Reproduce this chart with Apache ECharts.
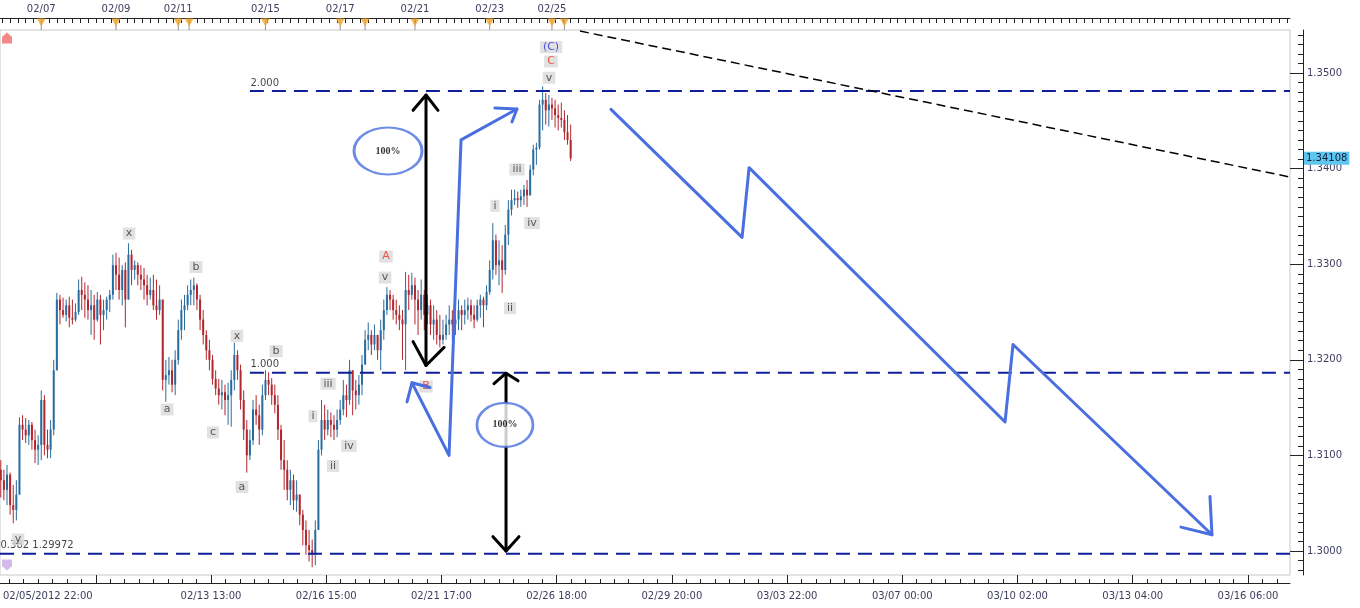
<!DOCTYPE html>
<html><head><meta charset="utf-8">
<script src="https://cdn.jsdelivr.net/npm/echarts@6/dist/echarts.min.js"></script>
<style>html,body{margin:0;padding:0;background:#fff}#c{width:1360px;height:608px}</style>
</head><body><div id="c"></div>
<script>
// ---------------- DATA ----------------
// x unit = trading hour since 02/05/2012 22:00; one candle per 2 hours
const candleStepHours = 2;
// [open, close, low, high]
const candles = [
[1.3085,1.3074,1.3056,1.3095],[1.3074,1.3064,1.3053,1.3085],[1.3064,1.3080,1.3048,1.3090],[1.3080,1.3048,1.3038,1.3082],
[1.3048,1.3043,1.3029,1.3069],[1.3043,1.3059,1.3032,1.3074],[1.3059,1.3132,1.3059,1.3140],[1.3132,1.3127,1.3116,1.3142],
[1.3127,1.3121,1.3113,1.3139],[1.3121,1.3132,1.3111,1.3137],[1.3132,1.3116,1.3106,1.3135],[1.3116,1.3106,1.3092,1.3127],
[1.3106,1.3111,1.3090,1.3121],[1.3111,1.3158,1.3095,1.3168],[1.3158,1.3111,1.3100,1.3163],[1.3111,1.3106,1.3097,1.3127],
[1.3106,1.3127,1.3097,1.3137],[1.3127,1.3189,1.3121,1.3200],[1.3189,1.3263,1.3189,1.3270],[1.3263,1.3252,1.3237,1.3268],
[1.3252,1.3247,1.3244,1.3265],[1.3247,1.3257,1.3240,1.3263],[1.3257,1.3244,1.3234,1.3266],[1.3244,1.3242,1.3237,1.3263],
[1.3242,1.3250,1.3240,1.3259],[1.3250,1.3273,1.3247,1.3284],[1.3273,1.3268,1.3252,1.3287],[1.3268,1.3263,1.3244,1.3281],
[1.3263,1.3252,1.3242,1.3278],[1.3252,1.3257,1.3226,1.3273],[1.3257,1.3242,1.3221,1.3268],[1.3242,1.3263,1.3240,1.3271],
[1.3263,1.3247,1.3216,1.3268],[1.3247,1.3252,1.3231,1.3263],[1.3252,1.3263,1.3242,1.3266],[1.3263,1.3268,1.3250,1.3273],
[1.3268,1.3299,1.3263,1.3310],[1.3299,1.3289,1.3273,1.3312],[1.3289,1.3273,1.3263,1.3307],[1.3273,1.3294,1.3257,1.3299],
[1.3294,1.3263,1.3234,1.3302],[1.3263,1.3310,1.3263,1.3322],[1.3310,1.3294,1.3278,1.3315],[1.3294,1.3299,1.3284,1.3304],
[1.3299,1.3289,1.3278,1.3302],[1.3289,1.3284,1.3273,1.3299],[1.3284,1.3278,1.3263,1.3296],[1.3278,1.3268,1.3257,1.3289],
[1.3268,1.3273,1.3263,1.3286],[1.3273,1.3257,1.3252,1.3289],[1.3257,1.3252,1.3242,1.3284],[1.3252,1.3263,1.3247,1.3278],
[1.3263,1.3179,1.3168,1.3263],[1.3179,1.3184,1.3156,1.3200],[1.3184,1.3189,1.3174,1.3203],[1.3189,1.3174,1.3166,1.3200],
[1.3174,1.3200,1.3163,1.3210],[1.3200,1.3231,1.3195,1.3242],[1.3231,1.3252,1.3221,1.3263],[1.3252,1.3257,1.3231,1.3268],
[1.3257,1.3268,1.3252,1.3278],[1.3268,1.3273,1.3257,1.3284],[1.3273,1.3278,1.3257,1.3286],[1.3278,1.3263,1.3252,1.3280],
[1.3263,1.3242,1.3231,1.3268],[1.3242,1.3226,1.3216,1.3252],[1.3226,1.3210,1.3200,1.3231],[1.3210,1.3200,1.3189,1.3221],
[1.3200,1.3180,1.3174,1.3205],[1.3180,1.3170,1.3163,1.3189],[1.3170,1.3163,1.3153,1.3180],[1.3163,1.3166,1.3148,1.3179],
[1.3166,1.3158,1.3142,1.3174],[1.3158,1.3163,1.3132,1.3176],[1.3163,1.3179,1.3130,1.3189],[1.3179,1.3205,1.3168,1.3218],
[1.3205,1.3189,1.3179,1.3210],[1.3189,1.3158,1.3148,1.3195],[1.3158,1.3127,1.3116,1.3168],[1.3127,1.3100,1.3082,1.3137],
[1.3100,1.3116,1.3095,1.3127],[1.3116,1.3148,1.3111,1.3158],[1.3148,1.3142,1.3132,1.3163],[1.3142,1.3127,1.3111,1.3153],
[1.3127,1.3163,1.3121,1.3174],[1.3163,1.3179,1.3158,1.3189],[1.3179,1.3174,1.3163,1.3187],[1.3174,1.3163,1.3153,1.3181],
[1.3163,1.3153,1.3144,1.3174],[1.3153,1.3127,1.3116,1.3163],[1.3127,1.3095,1.3085,1.3132],[1.3095,1.3085,1.3064,1.3116],
[1.3085,1.3064,1.3053,1.3095],[1.3064,1.3074,1.3048,1.3085],[1.3074,1.3053,1.3043,1.3080],[1.3053,1.3059,1.3041,1.3074],
[1.3059,1.3038,1.3027,1.3059],[1.3038,1.3022,1.3006,1.3043],[1.3022,1.3006,1.2996,1.3032],[1.3006,1.3001,1.2989,1.3022],
[1.3001,1.2996,1.2983,1.3012],[1.2996,1.3022,1.2985,1.3032],[1.3022,1.3106,1.3022,1.3116],[1.3106,1.3137,1.3100,1.3158],
[1.3137,1.3127,1.3116,1.3153],[1.3127,1.3137,1.3121,1.3148],[1.3137,1.3132,1.3119,1.3145],[1.3132,1.3127,1.3116,1.3142],
[1.3127,1.3137,1.3119,1.3148],[1.3137,1.3148,1.3132,1.3158],[1.3148,1.3163,1.3142,1.3179],[1.3163,1.3158,1.3140,1.3174],
[1.3158,1.3189,1.3153,1.3200],[1.3189,1.3168,1.3142,1.3189],[1.3168,1.3163,1.3148,1.3179],[1.3163,1.3174,1.3153,1.3184],
[1.3174,1.3195,1.3163,1.3205],[1.3195,1.3221,1.3195,1.3231],[1.3221,1.3226,1.3210,1.3239],[1.3226,1.3216,1.3205,1.3231],
[1.3216,1.3226,1.3210,1.3237],[1.3226,1.3210,1.3200,1.3226],[1.3210,1.3231,1.3189,1.3242],[1.3231,1.3252,1.3221,1.3263],
[1.3252,1.3268,1.3247,1.3276],[1.3268,1.3263,1.3252,1.3273],[1.3263,1.3252,1.3242,1.3268],[1.3252,1.3247,1.3237,1.3263],
[1.3247,1.3242,1.3231,1.3257],[1.3242,1.3237,1.3200,1.3252],[1.3237,1.3273,1.3189,1.3292],[1.3273,1.3268,1.3252,1.3289],
[1.3268,1.3278,1.3263,1.3291],[1.3278,1.3263,1.3237,1.3286],[1.3263,1.3252,1.3226,1.3273],[1.3252,1.3268,1.3242,1.3284],
[1.3268,1.3247,1.3231,1.3273],[1.3247,1.3257,1.3237,1.3268],[1.3257,1.3237,1.3226,1.3263],[1.3237,1.3242,1.3221,1.3257],
[1.3242,1.3226,1.3216,1.3252],[1.3226,1.3221,1.3213,1.3247],[1.3221,1.3226,1.3216,1.3242],[1.3226,1.3237,1.3221,1.3247],
[1.3237,1.3242,1.3226,1.3257],[1.3242,1.3237,1.3221,1.3252],[1.3237,1.3242,1.3226,1.3247],[1.3242,1.3252,1.3231,1.3263],
[1.3252,1.3247,1.3231,1.3257],[1.3247,1.3252,1.3237,1.3263],[1.3252,1.3257,1.3242,1.3265],[1.3257,1.3247,1.3240,1.3263],
[1.3247,1.3242,1.3233,1.3257],[1.3242,1.3257,1.3240,1.3263],[1.3257,1.3263,1.3244,1.3268],[1.3263,1.3257,1.3234,1.3266],
[1.3257,1.3271,1.3252,1.3278],[1.3271,1.3294,1.3268,1.3304],[1.3294,1.3325,1.3284,1.3343],[1.3325,1.3299,1.3289,1.3331],
[1.3299,1.3304,1.3278,1.3325],[1.3304,1.3294,1.3270,1.3320],[1.3294,1.3331,1.3289,1.3341],[1.3331,1.3357,1.3320,1.3367],
[1.3357,1.3367,1.3351,1.3378],[1.3367,1.3369,1.3362,1.3378],[1.3369,1.3367,1.3359,1.3376],[1.3367,1.3371,1.3360,1.3378],
[1.3371,1.3378,1.3362,1.3383],[1.3378,1.3372,1.3360,1.3388],[1.3372,1.3399,1.3372,1.3404],[1.3399,1.3420,1.3393,1.3425],
[1.3420,1.3422,1.3404,1.3427],[1.3422,1.3467,1.3420,1.3472],[1.3467,1.3472,1.3440,1.3486],[1.3472,1.3461,1.3446,1.3479],
[1.3461,1.3467,1.3444,1.3477],[1.3467,1.3463,1.3451,1.3474],[1.3463,1.3456,1.3443,1.3472],[1.3456,1.3453,1.3440,1.3467],
[1.3453,1.3451,1.3443,1.3469],[1.3451,1.3438,1.3430,1.3461],[1.3438,1.3430,1.3425,1.3456],[1.3430,1.34108,1.3408,1.3446]
];
const lastPrice = 1.34108;

const bottomLabelHours = [0,135,209,283,357,431,505,579,653,727,801];
const bottomLabels = ['02/05/2012 22:00','02/13 13:00','02/16 15:00','02/21 17:00','02/26 18:00','02/29 20:00','03/03 22:00','03/07 00:00','03/10 02:00','03/13 04:00','03/16 06:00'];
const topLabelHours = [26,74,114,170,218,266,314,354];
const topLabels = ['02/07','02/09','02/11','02/15','02/17','02/21','02/23','02/25'];
const eventHours = [26,74,114,121,170,218,234,266,314,354,362];
const priceTicks = [1.30,1.31,1.32,1.33,1.34,1.35];

const fibLevels = [1.34812, 1.31864, 1.29972];
const fibNames = ['2.000', '1.000', '0.382 1.29972'];
const fibStartHours = [160, 160, -0.5];

// Elliott wave labels: [hour, price, text]
const waveLabels = [
  [82.4,1.3332,'x'],[125.4,1.3297,'b'],[106.8,1.3148,'a'],[151.7,1.3225,'x'],[176.8,1.3209,'b'],
  [136.3,1.3124,'c'],[154.9,1.3067,'a'],[11.1,1.3012,'y'],
  [200.5,1.3141,'i'],[213.4,1.3089,'ii'],[210.2,1.3175,'iii'],[223.6,1.3110,'iv'],[246.8,1.3286,'v'],
  [247.4,1.3308,'A'],[273.1,1.3172,'B'],
  [317.4,1.3361,'i'],[327.1,1.3254,'ii'],[331.6,1.3399,'iii'],[341.2,1.3343,'iv'],[352.1,1.3495,'v'],
  [353.4,1.3512,'C'],[353.4,1.3527,'(C)']
];

const trendLine = [[372.0,1.35439],[828,1.33912]];
const bluePaths = [
  [[275.7,1.3171],[264.1,1.3176],[260.9,1.3156]],
  [[264.1,1.3176],[287.9,1.3100],[295.6,1.3430],[331.5,1.34624]],
  [[317.4,1.34634],[331.5,1.34624],[328.3,1.34488]],
  [[391.9,1.3462],[476.1,1.3328],[480.6,1.3401],[645.0,1.3135],[650.1,1.3216],[777.9,1.3017]],
  [[758.0,1.3025],[777.9,1.3017],[776.6,1.3057]]
];
const blackPaths = [
  [[273.1,1.3477],[273.1,1.3194]],
  [[264.8,1.3461],[273.1,1.3477],[280.8,1.3461]],
  [[264.8,1.3219],[273.1,1.3194],[284.7,1.3213]],
  [[324.5,1.3186],[324.5,1.3000]],
  [[316.8,1.3175],[324.5,1.3186],[332.2,1.3178]],
  [[316.1,1.3015],[324.5,1.3000],[332.8,1.3015]]
];
const circleCenters = [[248.7,1.34185],[323.8,1.31319]];
const circleText = ['100%','100%'];
const startMarkers = [[4,1.35366,'up'],[4,1.29854,'down']];

// ---------------- CHART ----------------
const X_MIN = -0.5, X_MAX = 828, Y_MIN = 1.29749, Y_MAX = 1.35450;
const UP = '#2b6c9e', DOWN = '#b3262e';
const FONT = 'DejaVu Sans';
const AX_COLOR = '#3d3d60';

const majorX = [], minorX = [], topTicks = [], minorY = [];
for (let b = 61; b <= X_MAX; b += 74) majorX.push(b);
for (let b = 61 - 74; b <= X_MAX; b += 74 / 8) if (b >= X_MIN) minorX.push(b);
for (let b = 1; b <= X_MAX; b += 5) topTicks.push(b);
for (let v = 1298; v <= 1354; v++) minorY.push(v / 1000);

const candleData = candles.map((c, i) => [i * candleStepHours, c[0], c[1], c[2], c[3]]);

function renderCandle(params, api) {
  const x = api.coord([api.value(0), api.value(1)])[0];
  const yo = api.coord([0, api.value(1)])[1];
  const yc = api.coord([0, api.value(2)])[1];
  const yl = api.coord([0, api.value(3)])[1];
  const yh = api.coord([0, api.value(4)])[1];
  const col = api.value(2) >= api.value(1) ? UP : DOWN;
  return { type: 'group', children: [
    { type: 'line', shape: { x1: x, y1: yh, x2: x, y2: yl }, style: { stroke: col, lineWidth: 1 } },
    { type: 'rect', shape: { x: x - 1, y: Math.min(yo, yc), width: 2, height: Math.max(1, Math.abs(yo - yc)) }, style: { fill: col } }
  ]};
}

const series = [];
series.push({ type: 'custom', renderItem: renderCandle, data: candleData, encode: { x: 0, y: [1, 2, 3, 4] }, z: 2, silent: true, clip: true });

fibLevels.forEach((lv, i) => {
  series.push({ type: 'line', data: [[fibStartHours[i], lv], [X_MAX, lv]], showSymbol: false, silent: true, z: 3,
    lineStyle: { color: '#0f1f9a', width: 2, type: [14, 8] } });
});
series.push({ type: 'scatter', symbolSize: 1, itemStyle: { color: 'rgba(0,0,0,0)' }, z: 4, silent: true,
  data: fibLevels.map((lv, i) => ({ value: [fibStartHours[i], lv], name: fibNames[i] })),
  label: { show: true, position: 'right', distance: 0, offset: [0, -8], formatter: p => p.name, color: '#111', fontFamily: FONT, fontSize: 10 } });

series.push({ type: 'line', data: trendLine, showSymbol: false, silent: true, z: 3,
  lineStyle: { color: '#000', width: 1.5, type: [9, 5] } });

series.push({ type: 'scatter', symbolSize: 1, itemStyle: { color: 'rgba(0,0,0,0)' }, z: 5, silent: true,
  data: waveLabels.map(w => ({ value: [w[0], w[1]], name: w[2],
    label: { color: w[2].startsWith('(') ? '#2a2ad0' : (w[2] === w[2].toUpperCase() ? '#e8321e' : '#333') } })),
  label: { show: true, position: 'inside', formatter: p => p.name, fontFamily: FONT, fontSize: 11, lineHeight: 12,
    backgroundColor: '#dadada', padding: [0, 3, 0, 3] } });

blackPaths.forEach(p => series.push({ type: 'line', data: p, showSymbol: false, silent: true, z: 6,
  lineStyle: { color: '#000', width: 3, cap: 'round', join: 'round' } }));
bluePaths.forEach(p => series.push({ type: 'line', data: p, showSymbol: false, silent: true, z: 7,
  lineStyle: { color: '#4a6fe0', width: 3, cap: 'round', join: 'round' } }));

series.push({ type: 'scatter', z: 8, silent: true, symbol: 'circle',
  data: circleCenters.map((c, i) => ({ value: c, name: circleText[i], symbolSize: i === 0 ? [68, 47] : [56, 44] })),
  itemStyle: { color: '#fff', borderColor: '#4a6fe0', borderWidth: 2.5 },
  label: { show: true, position: 'inside', formatter: p => p.name, color: '#000', fontFamily: 'Liberation Serif', fontWeight: 'bold', fontSize: 10 } });

series.push({ type: 'scatter', z: 8, silent: true,
  data: startMarkers.map(m => ({ value: [m[0], m[1]],
    symbol: m[2] === 'up' ? 'path://M5,0 L10,4 L10,10 L0,10 L0,4 Z' : 'path://M0,0 L10,0 L10,6 L5,10 L0,6 Z',
    itemStyle: { color: m[2] === 'up' ? '#f06a6a' : '#c9a8e6' } })),
  symbolSize: [10, 11] });

// event markers in top strip (grid 1)
series.push({ type: 'scatter', xAxisIndex: 2, yAxisIndex: 1, silent: true, z: 3, symbol: 'rect', symbolSize: [1, 12],
  itemStyle: { color: '#777' }, data: eventHours.map(h => [h, 0.5]) });
series.push({ type: 'scatter', xAxisIndex: 2, yAxisIndex: 1, silent: true, z: 4, symbol: 'triangle', symbolRotate: 180,
  symbolSize: [9, 8], itemStyle: { color: '#f2a42a' }, data: eventHours.map(h => [h, 0.62]) });

const lblStyle = { color: AX_COLOR, fontFamily: FONT, fontSize: 10 };
const plotRect = { left: 0, right: 70, top: 30, bottom: 33 };
const noZeroLine = (show) => ({ show, onZero: false, lineStyle: { color: '#222' } });
const option = {
  animation: false,
  backgroundColor: '#fff',
  grid: [
    { ...plotRect, show: true, borderColor: '#c8c8c8', borderWidth: 1, backgroundColor: '#fff' },
    { left: 0, right: 70, top: 18, height: 12 },
    { ...plotRect },
    { ...plotRect }
  ],
  xAxis: [
    // 0: main bottom axis (grid 0)
    { type: 'value', gridIndex: 0, position: 'bottom', offset: 8, min: X_MIN, max: X_MAX, splitLine: { show: false },
      axisLine: noZeroLine(true),
      axisTick: { show: true, inside: true, length: 8, customValues: majorX, lineStyle: { color: '#222' } },
      axisLabel: { ...lblStyle, margin: 8, customValues: bottomLabelHours.slice(1),
        formatter: v => bottomLabels[bottomLabelHours.indexOf(Math.round(v))] || '' } },
    // 1: top date axis (grid 0)
    { type: 'value', gridIndex: 0, position: 'top', offset: 12, min: X_MIN, max: X_MAX, splitLine: { show: false },
      axisLine: noZeroLine(true),
      axisTick: { show: true, inside: true, length: 5, customValues: topTicks, lineStyle: { color: '#222' } },
      axisLabel: { ...lblStyle, margin: 4, customValues: topLabelHours,
        formatter: v => topLabels[topLabelHours.indexOf(Math.round(v))] || '' } },
    // 2: event strip (grid 1)
    { type: 'value', gridIndex: 1, min: X_MIN, max: X_MAX, show: false },
    // 3: minor bottom ticks (grid 2)
    { type: 'value', gridIndex: 2, position: 'bottom', offset: 8, min: X_MIN, max: X_MAX, splitLine: { show: false },
      axisLine: noZeroLine(false),
      axisTick: { show: true, inside: true, length: 4, customValues: minorX, lineStyle: { color: '#222' } },
      axisLabel: { show: false } },
    // 4: first bottom label, left aligned (grid 3)
    { type: 'value', gridIndex: 3, position: 'bottom', offset: 8, min: X_MIN, max: X_MAX, splitLine: { show: false },
      axisLine: noZeroLine(false), axisTick: { show: false },
      axisLabel: { ...lblStyle, margin: 8, align: 'left', customValues: [bottomLabelHours[0]], formatter: () => bottomLabels[0] } }
  ],
  yAxis: [
    // 0: main price axis (grid 0)
    { type: 'value', gridIndex: 0, position: 'right', offset: 13, min: Y_MIN, max: Y_MAX, splitLine: { show: false },
      axisLine: noZeroLine(true),
      axisTick: { show: true, inside: true, length: 13, customValues: priceTicks, lineStyle: { color: '#222' } },
      axisLabel: { ...lblStyle, margin: 4, customValues: priceTicks, formatter: v => v.toFixed(4) } },
    // 1: event strip (grid 1)
    { type: 'value', gridIndex: 1, min: 0, max: 1, show: false },
    // 2: minor price ticks (grid 2)
    { type: 'value', gridIndex: 2, position: 'right', offset: 13, min: Y_MIN, max: Y_MAX, splitLine: { show: false },
      axisLine: noZeroLine(false),
      axisTick: { show: true, inside: true, length: 5, customValues: minorY, lineStyle: { color: '#222' } },
      axisLabel: { show: false } },
    // 3: last price tag (grid 3)
    { type: 'value', gridIndex: 3, position: 'right', offset: 13, min: Y_MIN, max: Y_MAX, splitLine: { show: false }, z: 20,
      axisLine: noZeroLine(false), axisTick: { show: false },
      axisLabel: { ...lblStyle, color: '#0d1f3c', margin: 1, customValues: [lastPrice], formatter: v => v.toFixed(5),
        backgroundColor: '#5ec5ef', padding: [2, 2, 1, 2] } }
  ],
  series
};
const chart = echarts.init(document.getElementById('c'), null, { renderer: 'canvas' });
chart.setOption(option);
</script>
</body></html>
